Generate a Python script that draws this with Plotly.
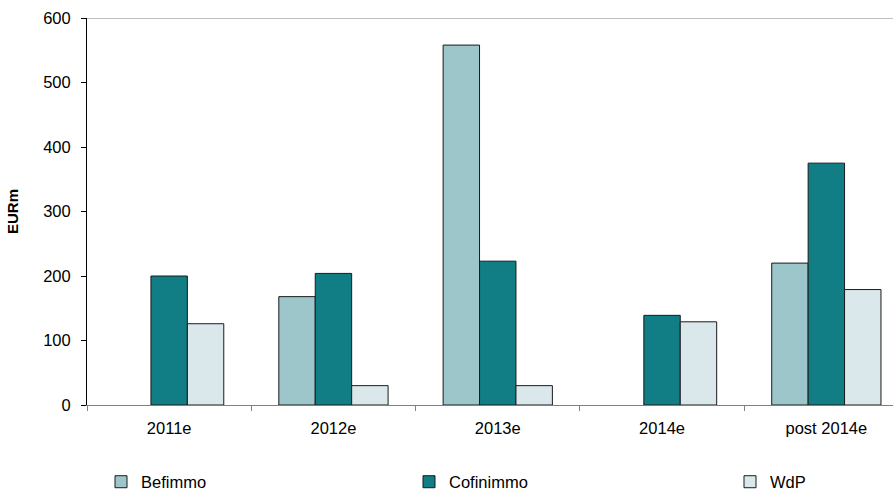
import plotly.graph_objects as go

categories = ["2011e", "2012e", "2013e", "2014e", "post 2014e"]
befimmo = [None, 168, 558, None, 220]
cofinimmo = [200, 204, 223, 139, 375]
wdp = [126, 30, 30, 129, 179]

series = [
    ("Befimmo", befimmo, "#9DC6CA", "legend"),
    ("Cofinimmo", cofinimmo, "#107E84", "legend2"),
    ("WdP", wdp, "#DAE8EC", "legend3"),
]

W, H = 893, 490
ML, MR, MT, MB = 87, 0, 18, 85
plot_w = W - ML - MR
plot_h = H - MT - MB
cat_px = 164.3

fig = go.Figure()
for name, vals, color, lg in series:
    fig.add_trace(go.Bar(
        x=categories, y=vals, name=name,
        marker=dict(color=color, line=dict(color="#1a1a1a", width=1)),
        legend=lg,
    ))

family = "Liberation Sans, Arial, sans-serif"
font = dict(family=family, size=16.5, color="#000000")

def legend_at(px):
    return dict(
        x=(px - ML) / plot_w, xanchor="left",
        y=-(482 - MT - plot_h) / plot_h, yanchor="middle",
        orientation="h", font=font, bgcolor="rgba(0,0,0,0)",
        itemwidth=30, itemclick=False,
    )

fig.update_layout(
    width=W, height=H,
    margin=dict(l=ML, r=MR, t=MT, b=MB, autoexpand=False),
    paper_bgcolor="white", plot_bgcolor="white",
    barmode="group", bargap=0.335, bargroupgap=0,
    font=font,
    showlegend=True,
    legend=legend_at(101),
    legend2=legend_at(409),
    legend3=legend_at(730),
    xaxis=dict(
        range=[-0.5, -0.5 + plot_w / cat_px],
        showline=True, linecolor="#808080", linewidth=1,
        ticks="outside", tickson="boundaries", ticklen=5,
        tickcolor="#808080", showgrid=False, zeroline=False,
        tickfont=font, ticklabelstandoff=8,
    ),
    yaxis=dict(
        range=[0, 600], dtick=100,
        showline=True, linecolor="#000000", linewidth=1,
        ticks="outside", ticklen=5, tickcolor="#000000",
        showgrid=False, zeroline=False, tickfont=font,
        ticklabelstandoff=7,
        title=dict(text="<b>EURm</b>", font=dict(family=family, size=15, color="#000000"), standoff=20),
    ),
    shapes=[dict(type="line", xref="paper", yref="y", x0=0, x1=1, y0=600, y1=600,
                 line=dict(color="#BFBFBF", width=2))],
)

fig.write_html("out.html")
